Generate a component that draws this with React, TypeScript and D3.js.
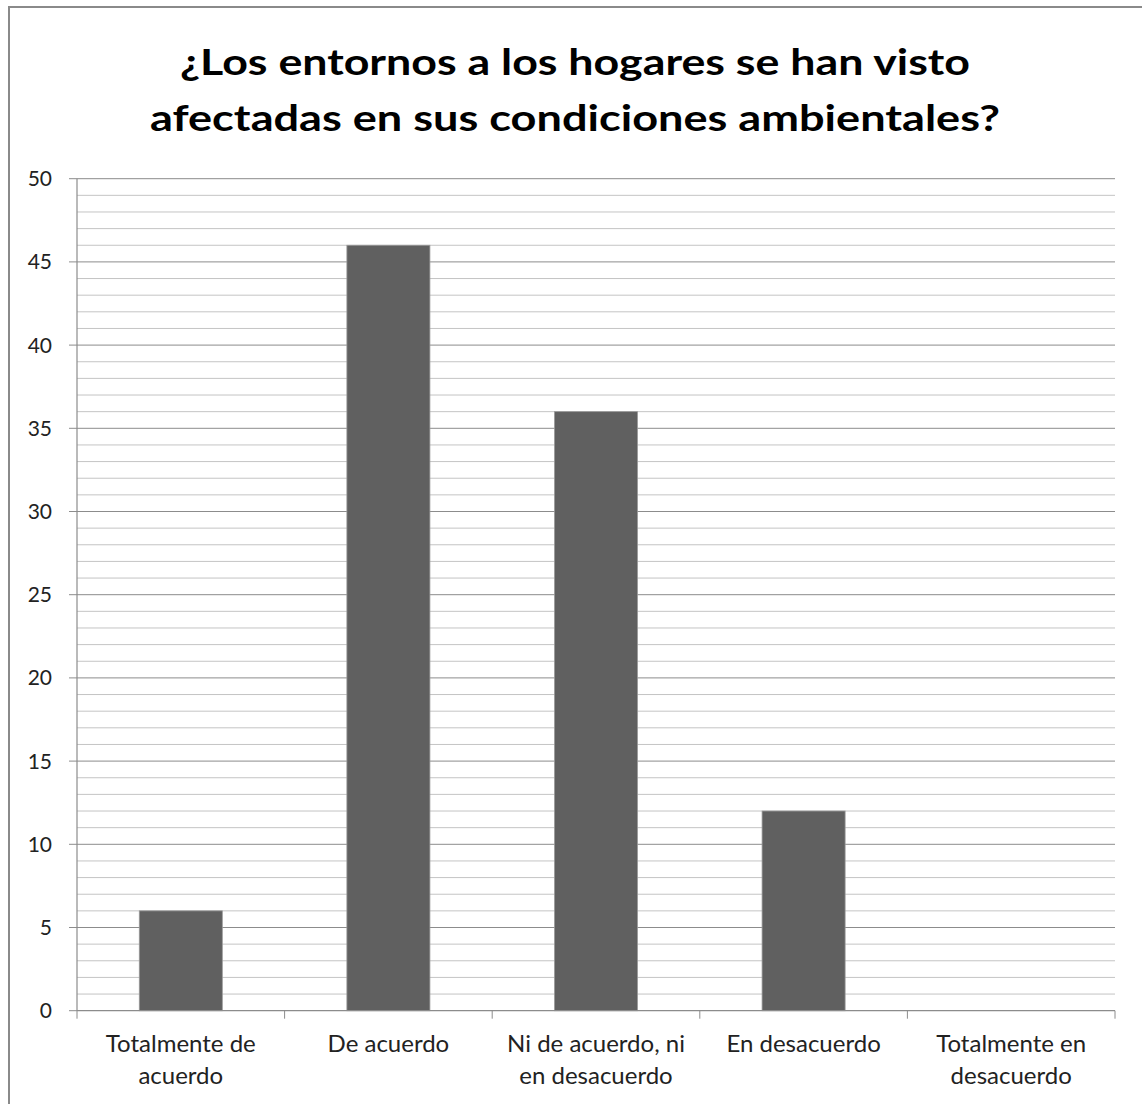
import React from "react";
import * as d3 from "d3";

const categories: string[][] = [
  ["Totalmente de", "acuerdo"],
  ["De acuerdo"],
  ["Ni de acuerdo, ni", "en desacuerdo"],
  ["En desacuerdo"],
  ["Totalmente en", "desacuerdo"],
];
const values: number[] = [6, 46, 36, 12, 0];
const titleLines: string[] = [
  "¿Los entornos a los hogares se han visto",
  "afectadas en sus condiciones ambientales?",
];
const yTicks: number[] = [0, 5, 10, 15, 20, 25, 30, 35, 40, 45, 50];

const W = 1142;
const H = 1104;
const left = 77;
const right = 1115;
const top = 178.7;
const bottom = 1010.7;

export default function App() {
  const y = d3.scaleLinear().domain([0, 50]).range([bottom, top]);
  const x = d3
    .scaleBand<number>()
    .domain(d3.range(categories.length))
    .range([left, right])
    .paddingInner(0.6)
    .paddingOuter(0.3);
  const minor = d3.range(1, 51).filter((v) => v % 5 !== 0);
  const step = (right - left) / categories.length;
  const font = "Lato, sans-serif";

  return (
    <svg
      width={W}
      height={H}
      style={{ position: "absolute", left: 0, top: 0, background: "#fff" }}
    >
      <rect x={9} y={7} width={W + 10} height={H + 10} fill="#fff" stroke="#8a8a8a" strokeWidth={2} />
      {titleLines.map((t, i) => (
        <text
          key={i}
          x={575}
          y={75 + i * 56}
          textAnchor="middle"
          fontFamily={font}
          fontWeight="bold"
          fontSize={37}
          fill="#000"
          textLength={i === 0 ? 790 : 850}
          lengthAdjust="spacingAndGlyphs"
        >
          {t}
        </text>
      ))}
      {minor.map((v) => (
        <line key={"m" + v} x1={left} x2={right} y1={y(v)} y2={y(v)} stroke="#c4c4c4" strokeWidth={1} />
      ))}
      {yTicks.map((v) => (
        <g key={"t" + v}>
          {v > 0 && <line x1={left} x2={right} y1={y(v)} y2={y(v)} stroke="#8c8c8c" strokeWidth={1} />}
          <line x1={69} x2={left} y1={y(v)} y2={y(v)} stroke="#8c8c8c" strokeWidth={1} />
          <text x={52} y={y(v)} dy="0.36em" textAnchor="end" fontFamily={font} fontSize={21} fill="#222">
            {v}
          </text>
        </g>
      ))}
      {values.map((v, i) =>
        v > 0 ? (
          <rect
            key={"b" + i}
            x={x(i)}
            y={y(v)}
            width={x.bandwidth()}
            height={y(0) - y(v)}
            fill="#606060"
            stroke="#9a9a9a"
            strokeWidth={0.8}
          />
        ) : null
      )}
      <line x1={left} x2={left} y1={top} y2={bottom} stroke="#8c8c8c" strokeWidth={1.2} />
      <line x1={left} x2={right} y1={bottom} y2={bottom} stroke="#8c8c8c" strokeWidth={1.2} />
      {d3.range(categories.length + 1).map((i) => (
        <line
          key={"ct" + i}
          x1={left + i * step}
          x2={left + i * step}
          y1={bottom}
          y2={bottom + 8}
          stroke="#8c8c8c"
          strokeWidth={1}
        />
      ))}
      {categories.map((lines, i) => (
        <text
          key={"c" + i}
          x={left + (i + 0.5) * step}
          textAnchor="middle"
          fontFamily={font}
          fontSize={24}
          fill="#222"
        >
          {lines.map((l, j) => (
            <tspan key={j} x={left + (i + 0.5) * step} y={1052 + j * 31.5}>
              {l}
            </tspan>
          ))}
        </text>
      ))}
    </svg>
  );
}
